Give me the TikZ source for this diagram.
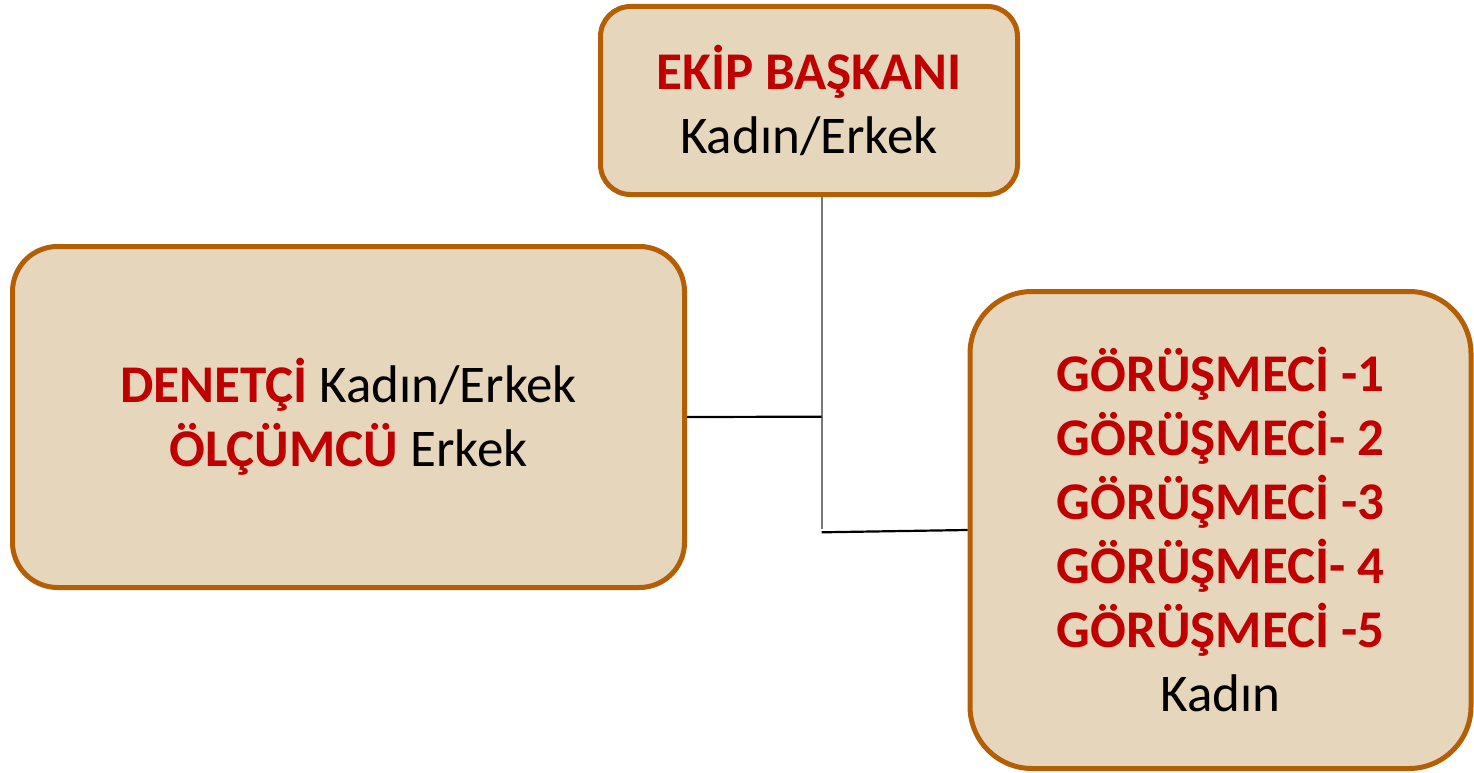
\documentclass[tikz,border=0pt]{standalone}
\usepackage{fontspec}
\setmainfont{Carlito}
\definecolor{boxfill}{RGB}{230,214,188}
\definecolor{boxline}{RGB}{180,95,6}
\definecolor{titlered}{RGB}{192,0,0}
\definecolor{linkgray}{RGB}{120,120,120}
\newcommand{\rt}[1]{{\color{titlered}\bfseries #1}}
\begin{document}
\begin{tikzpicture}[x=1pt,y=-1pt,
  box/.style={draw=boxline, fill=boxfill, line width=5pt, align=center,
    font=\fontsize{53}{64}\selectfont, inner sep=0pt},
  graylink/.style={draw=linkgray, line width=2.2pt},
  blacklink/.style={draw=black, line width=2.2pt}]
\useasboundingbox (0,0) rectangle (1474,773);
\node[box, rounded corners=30pt, minimum width=417pt, minimum height=188pt] (head) at (809,100.5)
  {\rt{EKİP BAŞKANI}\\Kadın/Erkek};
\node[box, rounded corners=45pt, minimum width=672pt, minimum height=341pt] (left) at (348.5,417)
  {\rt{DENETÇİ} Kadın/Erkek\\\rt{ÖLÇÜMCÜ} Erkek};
\node[box, rounded corners=62pt, minimum width=501pt, minimum height=477pt] (right) at (1220.5,530)
  {\rt{GÖRÜŞMECİ -1}\\\rt{GÖRÜŞMECİ- 2}\\\rt{GÖRÜŞMECİ -3}\\\rt{GÖRÜŞMECİ- 4}\\\rt{GÖRÜŞMECİ -5}\\Kadın};
\coordinate (j1) at (821.7,416.7);
\coordinate (j2) at (821.7,529);
\coordinate (j3) at (821.7,532.3);
\draw[graylink] (head.south -| j1) -- (j2);
\draw[blacklink] (left.east) -- (j1);
\draw[blacklink] (j3) -- (right.west);
\end{tikzpicture}
\end{document}
